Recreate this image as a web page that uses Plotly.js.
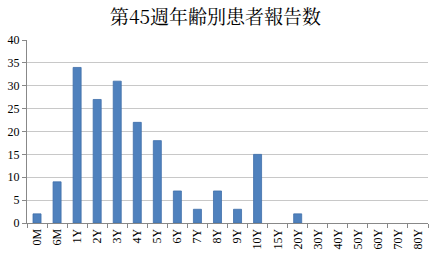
<!DOCTYPE html>
<html><head><meta charset="utf-8">
<script src="https://cdn.plot.ly/plotly-3.0.1.min.js"></script>
<style>html,body{margin:0;padding:0;background:#fff}#c{width:431px;height:260px}</style>
</head><body><div id="c"></div>
<script>
const categories = ["0M","6M","1Y","2Y","3Y","4Y","5Y","6Y","7Y","8Y","9Y","10Y","15Y","20Y","30Y","40Y","50Y","60Y","70Y","80Y"];
const counts = [2,9,34,27,31,22,18,7,3,7,3,15,0,2,0,0,0,0,0,0];
const yTicks = [0,5,10,15,20,25,30,35,40];
const titleText = "第45週年齢別患者報告数";

Plotly.newPlot("c", [{
  type: "bar", x: categories, y: counts,
  marker: {color: "#4F81BD", line: {color: "#3F6FAA", width: counts.map(v => v > 0 ? 0.8 : 0)}},
  hoverinfo: "none"
}], {
  width: 431, height: 260,
  margin: {l: 27, r: 3, t: 40, b: 37},
  paper_bgcolor: "#fff", plot_bgcolor: "#fff",
  bargap: 0.6,
  showlegend: false,
  title: {text: titleText, x: 0.5, xanchor: "center", y: 0.935, yanchor: "middle",
          font: {family: "Noto Serif CJK JP, Noto Sans CJK JP, serif", size: 19, color: "#000"}},
  xaxis: {type: "category", tickson: "boundaries", ticks: "outside", ticklen: 4, tickcolor: "#888",
          showline: true, linecolor: "#888", linewidth: 1, tickangle: -90, showgrid: false,
          tickfont: {family: "Liberation Serif, serif", size: 12, color: "#000"}},
  yaxis: {range: [0, 40], tickvals: yTicks, ticks: "outside", ticklen: 4, tickcolor: "#888",
          showline: true, linecolor: "#888", gridcolor: "#c8c8c8", zeroline: false,
          tickfont: {family: "Liberation Serif, serif", size: 12, color: "#000"}}
}, {staticPlot: true});
</script></body></html>
